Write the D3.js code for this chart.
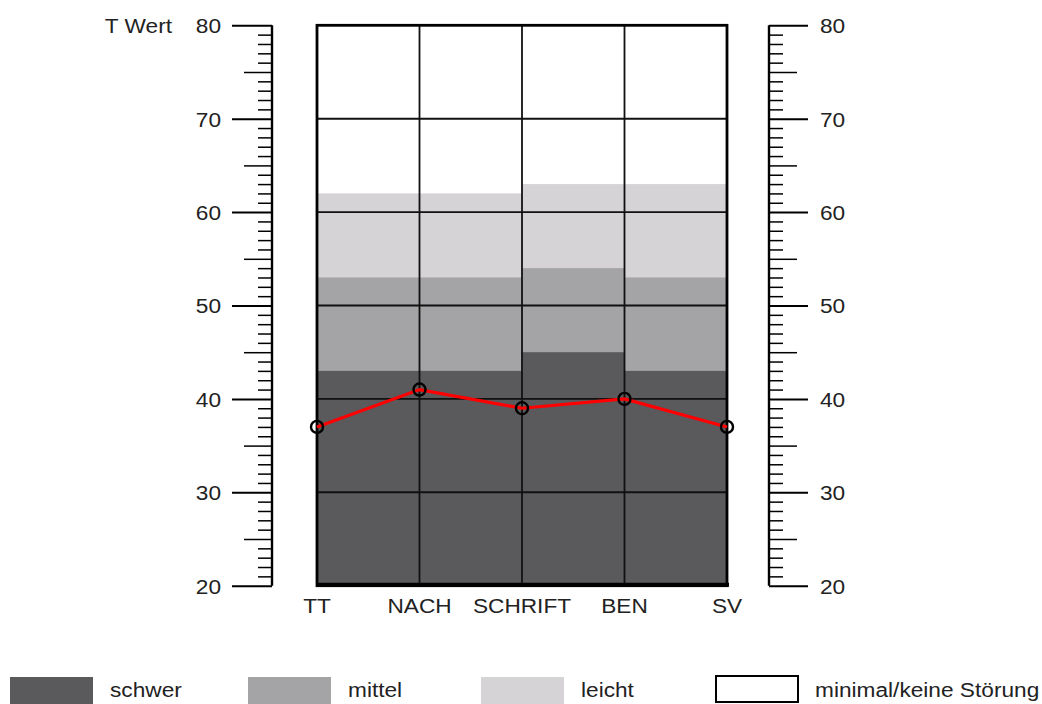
<!DOCTYPE html>
<html>
<head>
<meta charset="utf-8">
<script src="https://cdn.jsdelivr.net/npm/d3@7"></script>
<style>
  html, body { margin: 0; padding: 0; background: #fff; }
  svg { display: block; }
  text { font-family: "Liberation Sans", Arial, sans-serif; fill: #222; }
</style>
</head>
<body>
<svg id="chart" width="1042" height="704"></svg>
<script>
// Scales (subtests) along the profile
const categories = ["TT", "NACH", "SCHRIFT", "BEN", "SV"];
// Patient T values per subtest
const tValues = [37, 41, 39, 40, 37];
// Upper limits of the severity bands for each segment between neighbouring subtests
const schwerTop = [43, 43, 45, 43];
const mittelTop = [53, 53, 54, 53];
const leichtTop = [62, 62, 63, 63];
// Axis ticks
const majorTicks = [20, 30, 40, 50, 60, 70, 80];
const halfTicks = [25, 35, 45, 55, 65, 75];
const minorTicks = d3.range(20, 81).filter(v => v % 5 !== 0);
// Legend
const legendLabels = ["schwer", "mittel", "leicht", "minimal/keine Störung"];
const legendColors = ["#5a595c", "#a4a3a5", "#d5d3d6", "#ffffff"];

const svg = d3.select("#chart");
const TEXT_SX = 1.09;   // slightly widened lettering
const FS = 20.8;

const y = d3.scaleLinear().domain([20, 80]).range([585.7, 25.3]);
const x = d3.scalePoint().domain(categories).range([317, 727]);

// ---------- severity bands ----------
const segments = d3.range(categories.length - 1).map(i => ({
  x0: x(categories[i]), x1: x(categories[i + 1]),
  schwer: schwerTop[i], mittel: mittelTop[i], leicht: leichtTop[i]
}));

const bandDefs = [
  { key: "leicht", color: legendColors[2] },
  { key: "mittel", color: legendColors[1] },
  { key: "schwer", color: legendColors[0] }
];
const plot = svg.append("g");
bandDefs.forEach(b => {
  plot.selectAll(null).data(segments).join("rect")
    .attr("x", d => d.x0).attr("width", d => d.x1 - d.x0)
    .attr("y", d => y(d[b.key])).attr("height", d => y(20) - y(d[b.key]))
    .attr("fill", b.color);
});

// ---------- grid ----------
plot.selectAll(null).data([30, 40, 50, 60, 70]).join("line")
  .attr("x1", x(categories[0])).attr("x2", x(categories[categories.length - 1]))
  .attr("y1", d => y(d)).attr("y2", d => y(d))
  .attr("stroke", "#111").attr("stroke-width", 1.9);

plot.selectAll(null).data(categories.slice(1, -1)).join("line")
  .attr("x1", d => x(d)).attr("x2", d => x(d))
  .attr("y1", y(80)).attr("y2", y(20))
  .attr("stroke", "#111").attr("stroke-width", 1.8);

// frame
plot.append("rect")
  .attr("x", x(categories[0])).attr("y", y(80))
  .attr("width", x(categories[categories.length - 1]) - x(categories[0]))
  .attr("height", y(20) - y(80))
  .attr("fill", "none").attr("stroke", "#000").attr("stroke-width", 2.8);
plot.append("line")
  .attr("x1", x(categories[0]) - 1).attr("x2", x(categories[categories.length - 1]) + 2)
  .attr("y1", y(20) - 1).attr("y2", y(20) - 1)
  .attr("stroke", "#000").attr("stroke-width", 4);

// ---------- profile line ----------
const line = d3.line().x((d, i) => x(categories[i])).y(d => y(d));
plot.append("path").datum(tValues)
  .attr("d", line).attr("fill", "none")
  .attr("stroke", "#ff0000").attr("stroke-width", 3.2);
plot.selectAll(null).data(tValues).join("circle")
  .attr("cx", (d, i) => x(categories[i])).attr("cy", d => y(d))
  .attr("r", 6).attr("fill", "none")
  .attr("stroke", "#000").attr("stroke-width", 2.4);

// ---------- axes ----------
function drawAxis(xPos, side) {
  const mk = side === "left" ? d3.axisLeft : d3.axisRight;
  const g = svg.append("g").attr("transform", `translate(${xPos},0)`);
  const layers = [
    { vals: minorTicks, size: 14, labels: false },
    { vals: halfTicks, size: 28, labels: false },
    { vals: majorTicks, size: side === "left" ? 40 : 39, labels: true }
  ];
  layers.forEach(l => {
    const a = mk(y).tickValues(l.vals).tickSize(l.size)
      .tickPadding(side === "left" ? 11 : 12)
      .tickFormat(l.labels ? d3.format("d") : () => "");
    const ga = g.append("g").call(a);
    ga.select(".domain").remove();
    ga.selectAll(".tick line").attr("stroke", "#000")
      .attr("stroke-width", l.labels ? 2 : 1.5);
    ga.selectAll(".tick text")
      .attr("font-size", FS).attr("fill", "#222")
      .attr("font-family", '"Liberation Sans", Arial, sans-serif')
      .attr("dy", null).attr("y", 7.4)
      .attr("transform", `scale(${TEXT_SX},1)`)
      .attr("x", function () { return +d3.select(this).attr("x") / TEXT_SX; });
  });
  g.append("line").attr("x1", 0).attr("x2", 0)
    .attr("y1", y(80)).attr("y2", y(20))
    .attr("stroke", "#000").attr("stroke-width", 2.4);
}
drawAxis(272, "left");
drawAxis(769, "right");

// axis title
svg.append("text")
  .attr("transform", `translate(172,32.7) scale(${TEXT_SX},1)`)
  .attr("text-anchor", "end").attr("font-size", FS).text("T Wert");

// category labels
svg.selectAll(null).data(categories).join("text")
  .attr("transform", d => `translate(${x(d)},613) scale(${TEXT_SX},1)`)
  .attr("text-anchor", "middle").attr("font-size", FS).text(d => d);

// ---------- legend ----------
const legendX = [10, 248, 481, 715];
const lg = svg.append("g");
legendLabels.forEach((lab, i) => {
  const outlined = i === 3;
  lg.append("rect")
    .attr("x", legendX[i] + (outlined ? 1 : 0))
    .attr("y", outlined ? 676 : 677)
    .attr("width", outlined ? 82 : 83).attr("height", outlined ? 26 : 28)
    .attr("fill", legendColors[i])
    .attr("stroke", outlined ? "#000" : "none").attr("stroke-width", 2);
  lg.append("text")
    .attr("transform", `translate(${legendX[i] + 100},697) scale(${TEXT_SX},1)`)
    .attr("font-size", FS).text(lab);
});
</script>
</body>
</html>
